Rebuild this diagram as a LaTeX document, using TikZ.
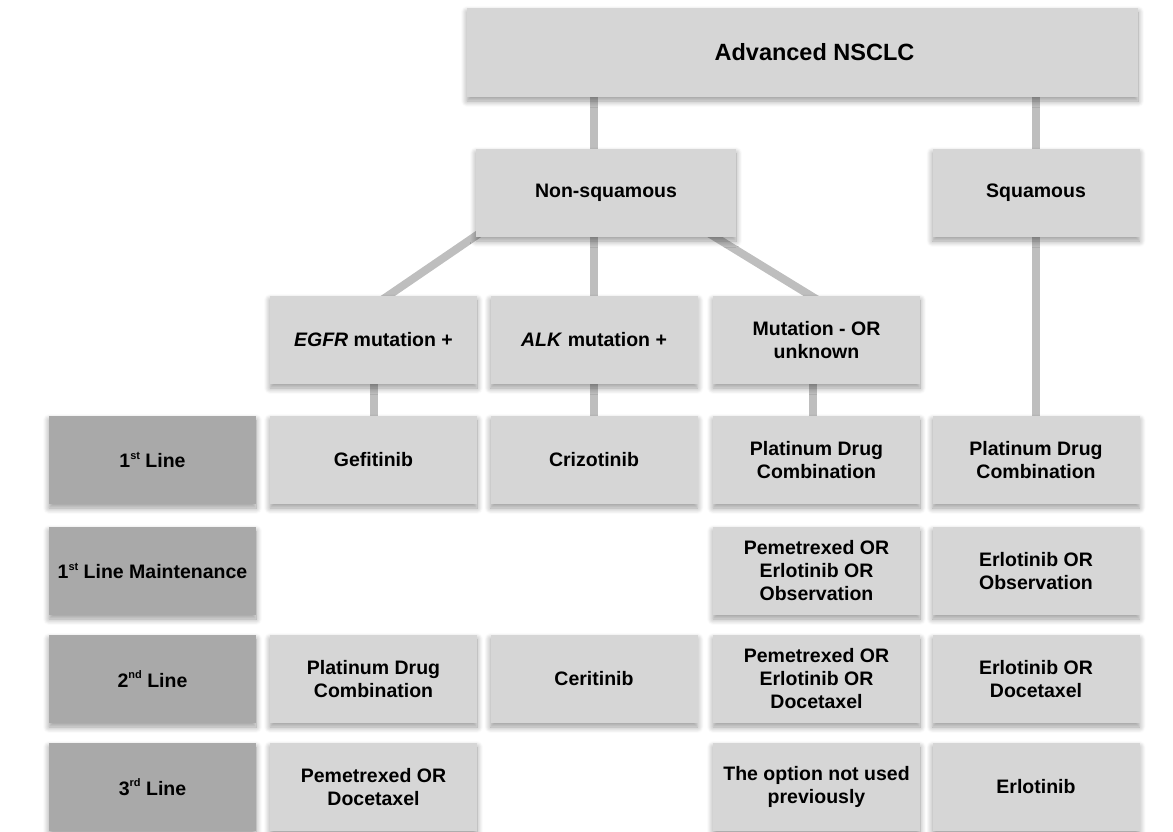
\documentclass[tikz,border=0pt]{standalone}
\usepackage{fontspec}
\setmainfont{Liberation Sans}
\usetikzlibrary{backgrounds,shadows.blur}
\definecolor{boxgray}{HTML}{D6D6D6}
\definecolor{labgray}{HTML}{A9A9A9}
\definecolor{linkgray}{HTML}{BEBEBE}
\newcommand{\supx}[1]{\raisebox{0.45em}{\fontsize{11}{11}\selectfont #1}}
\tikzset{
  basebox/.style={minimum width=207pt, minimum height=88pt, inner sep=0pt, align=center,
    font=\fontsize{19.5}{23}\selectfont\bfseries,
    blur shadow={shadow xshift=0pt, shadow yshift=-4pt, shadow blur radius=6pt, shadow blur steps=10, shadow opacity=40}},
  optbox/.style={basebox, fill=boxgray},
  labbox/.style={basebox, fill=labgray},
  link/.style={draw=linkgray, line width=8pt}
}
\begin{document}
\begin{tikzpicture}[x=1pt,y=1pt]
\useasboundingbox (0,0) rectangle (1173,-831);
% tree top
\node[optbox, minimum width=671pt, minimum height=89pt, font=\fontsize{23.5}{27}\selectfont\bfseries] (top) at (802.5,-52.5) {\hspace*{24pt}Advanced NSCLC};
\node[optbox, minimum width=260pt] (nonsq) at (606,-193) {Non-squamous};
\node[optbox] (sq) at (1036,-193) {Squamous};
% mutation row
\node[optbox] (egfr) at (373.5,-340) {\textit{EGFR} mutation +};
\node[optbox] (alk) at (594,-340) {\textit{ALK} mutation +};
\node[optbox] (mut) at (816.5,-340) {Mutation - OR\\unknown};
% row labels
\node[labbox] (l1) at (152.5,-460) {1\supx{st} Line};
\node[labbox] (l2) at (152.5,-571) {1\supx{st} Line Maintenance};
\node[labbox] (l3) at (152.5,-679) {2\supx{nd} Line};
\node[labbox] (l4) at (152.5,-787) {3\supx{rd} Line};
% row 1
\node[optbox] (e1) at (373.5,-460) {Gefitinib};
\node[optbox] (a1) at (594,-460) {Crizotinib};
\node[optbox] (m1) at (816.5,-460) {Platinum Drug\\Combination};
\node[optbox] (s1) at (1036,-460) {Platinum Drug\\Combination};
% row 2
\node[optbox] (m2) at (816.5,-571) {Pemetrexed OR\\Erlotinib OR\\Observation};
\node[optbox] (s2) at (1036,-571) {Erlotinib OR\\Observation};
% row 3
\node[optbox] (e3) at (373.5,-679) {Platinum Drug\\Combination};
\node[optbox] (a3) at (594,-679) {Ceritinib};
\node[optbox] (m3) at (816.5,-679) {Pemetrexed OR\\Erlotinib OR\\Docetaxel};
\node[optbox] (s3) at (1036,-679) {Erlotinib OR\\Docetaxel};
% row 4
\node[optbox] (e4) at (373.5,-787) {Pemetrexed OR\\Docetaxel};
\node[optbox] (m4) at (816.5,-787) {The option not used\\previously};
\node[optbox] (s4) at (1036,-787) {Erlotinib};
% connectors
\begin{scope}[on background layer]
\draw[link] (top.south -| alk.north) -- (alk.north);
\draw[link] (top.south -| sq.north) -- (sq.north);
\draw[link] (sq.south) -- (s1.north);
\draw[link] ([xshift=9.7pt,yshift=8pt]nonsq.south west) -- ([xshift=2.8pt,yshift=-8pt]egfr.north);
\draw[link] ([xshift=-34pt,yshift=8pt]nonsq.south east) -- ([xshift=7.5pt,yshift=-8pt]mut.north);
\draw[link] (egfr.south) -- (e1.north);
\draw[link] (alk.south) -- (a1.north);
\draw[link] (mut.south -| 813,0) -- (m1.north -| 813,0);
\end{scope}
\end{tikzpicture}
\end{document}
